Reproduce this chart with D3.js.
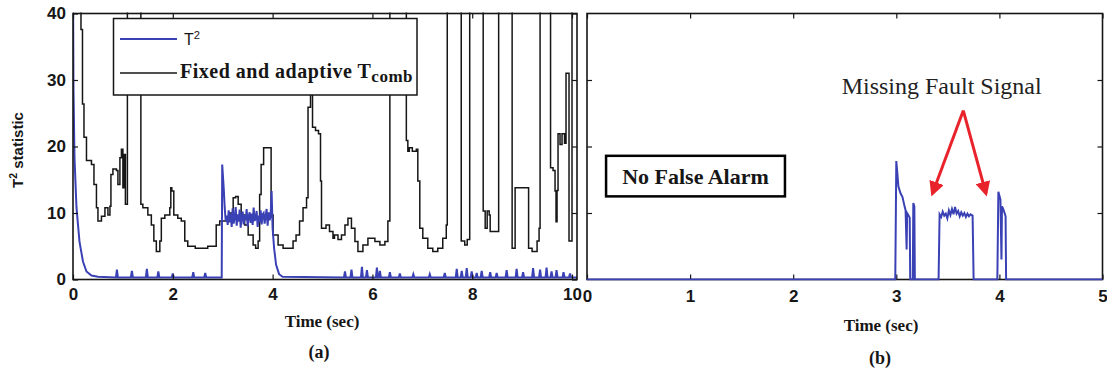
<!DOCTYPE html>
<html>
<head>
<meta charset="utf-8">
<script src="https://cdn.jsdelivr.net/npm/d3@7"></script>
<style>
body { margin: 0; background: #fff; }
svg { display: block; }
</style>
</head>
<body>
<div class="visualization"></div>
<script>
// ---- data ----
var xTicksA = [0, 2, 4, 6, 8, 10];
var yTicksA = [0, 10, 20, 30, 40];
var xTicksB = [0, 1, 2, 3, 4, 5];
var yTicksB = [10, 20, 30];

// (a) blue: T2 statistic  [time, value]
var t2A = [
    [0,45],[0.01,28.4],[0.03,18.3],[0.07,10.8],[0.13,5.7],[0.2,2.7],[0.27,1.2],[0.37,0.6],[0.5,0.4],
    [0.86,0.3],[0.88,1.5],[0.9,0.3],[1.16,0.3],[1.18,1.3],[1.2,0.3],[1.46,0.3],[1.48,1.6],[1.5,0.3],
    [1.69,0.3],[1.71,1.2],[1.73,0.3],[1.98,0.3],[2.0,0.9],[2.02,0.3],[2.39,0.3],[2.41,1.1],[2.43,0.3],
    [2.63,0.3],[2.65,1.0],[2.67,0.3],[2.98,0.3],
    [2.99,17.3],[3.02,13.8],[3.04,10.8],[3.06,8.8],
    [3.08,9.6],[3.10,8.2],[3.12,10.4],[3.14,8.6],[3.16,9.9],[3.18,7.9],[3.20,10.7],[3.22,8.4],
    [3.24,9.3],[3.26,10.9],[3.28,8.1],[3.30,9.8],[3.32,8.7],[3.34,10.5],[3.36,7.8],[3.38,9.4],
    [3.40,10.2],[3.42,8.3],[3.44,9.7],[3.46,8.9],[3.48,10.6],[3.50,8.0],[3.52,9.5],[3.54,10.1],
    [3.56,8.5],[3.58,9.9],[3.60,8.2],[3.62,10.8],[3.64,8.8],[3.66,9.2],[3.68,10.3],[3.70,7.9],
    [3.72,9.6],[3.74,8.6],[3.76,10.4],[3.78,8.3],[3.80,9.8],[3.82,10.0],[3.84,8.4],[3.86,9.5],
    [3.88,10.6],[3.90,8.1],[3.92,10.1],[3.94,8.9],[3.96,9.6],
    [3.98,13.3],[4.0,7.7],[4.03,4.7],[4.07,2.2],[4.13,0.8],[4.2,0.4],
    [5.43,0.3],[5.45,1.2],[5.47,0.3],[5.56,0.3],[5.58,1.5],[5.6,0.3],[5.77,0.3],[5.79,1.9],[5.81,0.3],
    [5.87,0.3],[5.89,1.4],[5.91,0.3],[6.07,0.3],[6.09,1.8],[6.11,0.3],[6.13,0.3],[6.15,1.3],[6.17,0.3],
    [6.33,0.3],[6.35,1.1],[6.37,0.3],[6.53,0.3],[6.55,0.9],[6.57,0.3],[6.8,0.3],[6.82,0.8],[6.84,0.3],
    [7.13,0.3],[7.15,0.8],[7.17,0.3],[7.43,0.3],[7.45,1.0],[7.47,0.3],[7.67,0.3],[7.69,1.6],[7.71,0.3],
    [7.77,0.3],[7.79,1.3],[7.81,0.3],[7.87,0.3],[7.89,1.7],[7.91,0.3],[7.97,0.3],[7.99,1.2],[8.01,0.3],
    [8.07,0.3],[8.09,1.0],[8.11,0.3],[8.17,0.3],[8.19,1.3],[8.21,0.3],[8.34,0.3],[8.36,1.1],[8.38,0.3],
    [8.47,0.3],[8.49,1.0],[8.51,0.3],[8.67,0.3],[8.69,1.4],[8.71,0.3],[8.87,0.3],[8.89,1.6],[8.91,0.3],
    [9.0,0.3],[9.02,1.1],[9.04,0.3],[9.2,0.3],[9.22,1.7],[9.24,0.3],[9.34,0.3],[9.36,1.5],[9.38,0.3],
    [9.47,0.3],[9.49,1.8],[9.51,0.3],[9.57,0.3],[9.59,1.2],[9.61,0.3],[9.67,0.3],[9.69,1.4],[9.71,0.3],
    [9.81,0.3],[9.83,1.1],[9.85,0.3],[9.94,0.3],[9.96,0.9],[9.98,0.3],[10.1,0.3]
];

// (a) black: fixed and adaptive T_comb threshold  [time, value]
var tcombA = [
    [0,45],[0.14,45],[0.16,37.6],[0.19,26.4],[0.22,21.4],[0.27,17.9],[0.37,17.3],[0.42,14.3],
    [0.47,10.8],[0.5,8.8],[0.57,9.5],[0.64,10.8],[0.7,9.7],[0.74,11],[0.76,15.8],[0.8,16.6],
    [0.87,16.4],[0.9,14.3],[0.94,18.3],[0.97,19.6],[1.0,13.8],[1.02,18.8],[1.05,11.3],[1.09,45],
    [1.36,11.3],[1.4,10.8],[1.5,9.7],[1.57,8.2],[1.62,5.8],[1.67,4.2],[1.74,5.8],[1.77,9.2],
    [1.84,9.7],[1.94,10.8],[1.96,13.8],[1.98,13.3],[2.02,9.7],[2.1,9.2],[2.17,8.8],[2.24,5.8],
    [2.3,5.0],[2.45,4.7],[2.7,5.0],[2.87,8.2],[2.94,8.8],[3.07,9.2],[3.14,10],[3.21,12.3],
    [3.26,12.5],[3.31,11.3],[3.37,9.7],[3.44,8.2],[3.51,6.7],[3.61,5.2],[3.66,4.7],[3.71,5.8],
    [3.74,12.8],[3.77,17.3],[3.82,19.8],[3.97,9.7],[4.01,6.7],[4.11,5.2],[4.21,4.7],[4.41,5.8],
    [4.47,6.7],[4.54,8.8],[4.61,10.8],[4.68,12.3],[4.71,25.9],[4.76,29],[4.8,22.9],[4.86,22.4],
    [4.92,21.9],[4.96,14.8],[4.98,7.7],[5.07,8.2],[5.14,7.2],[5.21,6.2],[5.24,6.7],[5.31,6.0],
    [5.38,6.7],[5.45,8.2],[5.51,9.2],[5.58,7.7],[5.65,5.7],[5.71,4.2],[5.81,5.2],[5.91,6.2],
    [6.05,5.7],[6.15,5.2],[6.25,5.7],[6.31,8.8],[6.35,45],[6.68,20.9],[6.71,19.3],[6.74,19.8],
    [6.8,19.3],[6.88,19.6],[6.91,14.8],[6.95,7.7],[7.01,6.2],[7.11,4.7],[7.21,4.2],[7.31,4.7],
    [7.41,6.2],[7.48,8.2],[7.5,45],[7.78,5.8],[7.85,5.2],[7.9,6.0],[7.95,45],[8.22,10.3],
    [8.26,7.7],[8.3,10.3],[8.34,9.7],[8.36,7.2],[8.53,45],[8.8,4.7],[8.86,13.8],[9.13,4.7],
    [9.2,4.2],[9.3,5.8],[9.34,7.7],[9.36,45],[9.57,16.8],[9.62,16.4],[9.66,13.3],[9.68,8.7],
    [9.7,13.4],[9.72,21.9],[9.76,20.3],[9.8,21.9],[9.85,20.5],[9.88,31],[9.94,5.8],[10.0,45],[10.1,45]
];

// (b) blue: T2 with missing fault signal  [time, value]
var t2B = [
    [0,0],[2.99,0],[3.0,17.8],[3.01,16],[3.02,14],[3.04,13],[3.06,12.4],[3.08,11],[3.09,10.4],
    [3.1,4.5],[3.105,10],[3.12,9.6],[3.13,9.3],[3.135,0],[3.16,0],[3.165,11.5],[3.175,11],[3.18,0],
    [3.41,0],[3.42,9.8],[3.435,9.4],[3.45,10.2],[3.465,9.6],[3.48,9.9],[3.495,9.2],[3.51,10.4],
    [3.525,9.7],[3.54,10.6],[3.555,9.8],[3.57,10.9],[3.585,9.9],[3.6,10.3],[3.615,9.5],[3.63,10.1],
    [3.645,9.6],[3.66,10.0],[3.675,9.4],[3.69,9.9],[3.705,9.5],[3.72,9.8],[3.74,9.6],[3.75,0],
    [3.98,0],[3.99,13.2],[4.01,12],[4.02,3],[4.025,11],[4.035,10.7],[4.05,10],[4.06,9.5],[4.065,0],
    [5,0]
];

// annotations in (b), data units
var arrowApex = [3.65, 25.4];
var arrowEnds = [[3.35, 12.9], [3.87, 12.9]];
var missingLabel = {text: 'Missing Fault Signal', t: 3.44, v: 27.9};
var noAlarmBox = {text: 'No False Alarm', t0: 0.185, t1: 1.92, v0: 12.5, v1: 18.6};

// ---- layout ----
var width = 1107, height = 372;
var blue = '#3a41b5';
var ink = '#161616';

var svg = d3.select('.visualization').append('svg')
    .attr('width', width)
    .attr('height', height);

var defs = svg.append('defs');

var xA = d3.scaleLinear().domain([0, 10.1]).range([73, 577]);
var yA = d3.scaleLinear().domain([0, 40]).range([279.5, 13.5]);
var xB = d3.scaleLinear().domain([0, 5]).range([587, 1102.5]);
var yB = d3.scaleLinear().domain([0, 40]).range([279.5, 13.5]);

function drawFrame(name, x, y, xTicks, yTicks, yLabels, xPad) {
    var g = svg.append('g').attr('class', 'frame-' + name);
    var x0 = x.range()[0], x1 = x.range()[1];
    var y0 = y.range()[1], y1 = y.range()[0];

    var bottom = g.append('g')
        .attr('transform', `translate(0,${y1})`)
        .call(d3.axisBottom(x).tickValues(xTicks).tickSizeInner(-5).tickSizeOuter(0).tickPadding(xPad).tickFormat(d3.format('d')));
    var top = g.append('g')
        .attr('transform', `translate(0,${y0})`)
        .call(d3.axisTop(x).tickValues(xTicks).tickSizeInner(-5).tickSizeOuter(0).tickFormat(''));
    var left = g.append('g')
        .attr('transform', `translate(${x0},0)`)
        .call(d3.axisLeft(y).tickValues(yTicks).tickSizeInner(-5).tickSizeOuter(0).tickPadding(7)
            .tickFormat(yLabels ? d3.format('d') : ''));
    var right = g.append('g')
        .attr('transform', `translate(${x1},0)`)
        .call(d3.axisRight(y).tickValues(yTicks).tickSizeInner(-5).tickSizeOuter(0).tickFormat(''));

    [bottom, top, left, right].forEach(a => {
        a.select('.domain').remove();
        a.selectAll('line').attr('stroke', ink).attr('stroke-width', 1.2);
        a.selectAll('text')
            .attr('fill', ink)
            .style('font-family', '"Liberation Sans", Arial, sans-serif')
            .style('font-weight', 'bold')
            .style('font-size', '17px');
    });

    g.append('rect')
        .attr('x', x0).attr('y', y0)
        .attr('width', x1 - x0).attr('height', y1 - y0)
        .attr('fill', 'none')
        .attr('stroke', ink)
        .attr('stroke-width', 1.6);
    return g;
}

function clipFor(name, x, y) {
    defs.append('clipPath').attr('id', 'clip-' + name)
        .append('rect')
        .attr('x', x.range()[0]).attr('y', y.range()[1] - 1)
        .attr('width', x.range()[1] - x.range()[0])
        .attr('height', y.range()[0] - y.range()[1] + 2);
    return svg.append('g').attr('clip-path', `url(#clip-${name})`);
}

// "T" with a raised small "2"
function tSquared(text, size) {
    text.append('tspan').text('T');
    text.append('tspan').attr('dy', -size * 0.4).style('font-size', (size * 0.7) + 'px').text('2');
}

// ---- panel (a) ----
var plotA = clipFor('a', xA, yA);

plotA.append('path')
    .datum(tcombA)
    .attr('fill', 'none')
    .attr('stroke', ink)
    .attr('stroke-width', 1.5)
    .attr('d', d3.line().x(d => xA(d[0])).y(d => yA(d[1])).curve(d3.curveStepAfter));

plotA.append('path')
    .datum(t2A)
    .attr('fill', 'none')
    .attr('stroke', blue)
    .attr('stroke-width', 2)
    .attr('d', d3.line().x(d => xA(d[0])).y(d => yA(d[1])));

drawFrame('a', xA, yA, xTicksA, yTicksA, true, 8);

// legend
var legend = svg.append('g').attr('class', 'legend');
legend.append('rect')
    .attr('x', 113.5).attr('y', 18.5)
    .attr('width', 303.5).attr('height', 76.5)
    .attr('fill', '#fff')
    .attr('stroke', ink)
    .attr('stroke-width', 1.5);
legend.append('line')
    .attr('x1', 120).attr('x2', 177).attr('y1', 39).attr('y2', 39)
    .attr('stroke', blue).attr('stroke-width', 2.2);
legend.append('line')
    .attr('x1', 120).attr('x2', 177).attr('y1', 73).attr('y2', 73)
    .attr('stroke', ink).attr('stroke-width', 1.3);
legend.append('text')
    .attr('x', 184).attr('y', 45)
    .attr('fill', ink)
    .style('font-family', '"Liberation Sans", Arial, sans-serif')
    .style('font-size', '16px')
    .call(tSquared, 16);
var fixedLabel = legend.append('text')
    .attr('x', 180).attr('y', 78)
    .attr('fill', ink)
    .style('font-family', '"Liberation Serif", "Times New Roman", serif')
    .style('font-weight', 'bold')
    .style('letter-spacing', '0.5px')
    .style('font-size', '20px');
fixedLabel.append('tspan').text('Fixed and adaptive T');
fixedLabel.append('tspan').attr('dy', 4).style('font-size', '17px').text('comb');

// axis titles (a)
var yTitle = svg.append('text')
    .attr('transform', 'translate(23,150) rotate(-90)')
    .attr('text-anchor', 'middle')
    .attr('fill', ink)
    .style('font-family', '"Liberation Sans", Arial, sans-serif')
    .style('font-weight', 'bold')
    .style('font-size', '15px');
yTitle.call(tSquared, 15);
yTitle.append('tspan').attr('dy', 15 * 0.4).text(' statistic');

function serifLabel(x, y, text, size) {
    return svg.append('text')
        .attr('x', x).attr('y', y)
        .attr('text-anchor', 'middle')
        .attr('fill', ink)
        .style('font-family', '"Liberation Serif", "Times New Roman", serif')
        .style('font-weight', 'bold')
        .style('font-size', size + 'px')
        .text(text);
}
serifLabel(322, 327, 'Time (sec)', 17);
serifLabel(319, 358, '(a)', 18);

// ---- panel (b) ----
drawFrame('b', xB, yB, xTicksB, yTicksB, false, 10);

var plotB = clipFor('b', xB, yB);

plotB.append('path')
    .datum(t2B)
    .attr('fill', 'none')
    .attr('stroke', blue)
    .attr('stroke-width', 2)
    .attr('d', d3.line().x(d => xB(d[0])).y(d => yB(d[1])));

serifLabel(881, 331, 'Time (sec)', 17);
serifLabel(880, 364, '(b)', 18);

// "No False Alarm" box
svg.append('rect')
    .attr('x', xB(noAlarmBox.t0)).attr('y', yB(noAlarmBox.v1))
    .attr('width', xB(noAlarmBox.t1) - xB(noAlarmBox.t0))
    .attr('height', yB(noAlarmBox.v0) - yB(noAlarmBox.v1))
    .attr('fill', '#fff')
    .attr('stroke', '#000')
    .attr('stroke-width', 2.5);
serifLabel((xB(noAlarmBox.t0) + xB(noAlarmBox.t1)) / 2, 183.5, noAlarmBox.text, 22);

// "Missing Fault Signal" with red arrows
svg.append('text')
    .attr('x', xB(missingLabel.t)).attr('y', yB(missingLabel.v))
    .attr('text-anchor', 'middle')
    .attr('fill', '#222')
    .style('font-family', '"Liberation Serif", "Times New Roman", serif')
    .style('font-size', '24px')
    .text(missingLabel.text);

defs.append('marker')
    .attr('id', 'arrowhead')
    .attr('viewBox', '0 0 10 10')
    .attr('refX', 8).attr('refY', 5)
    .attr('markerWidth', 5).attr('markerHeight', 5)
    .attr('markerUnits', 'strokeWidth')
    .attr('orient', 'auto')
    .append('path')
    .attr('d', 'M0,0 L10,5 L0,10 Z')
    .attr('fill', '#e8232b');

svg.append('g').attr('class', 'arrows')
    .selectAll('line')
    .data(arrowEnds)
    .enter().append('line')
    .attr('x1', xB(arrowApex[0])).attr('y1', yB(arrowApex[1]))
    .attr('x2', d => xB(d[0])).attr('y2', d => yB(d[1]))
    .attr('stroke', '#e8232b')
    .attr('stroke-width', 3)
    .attr('marker-end', 'url(#arrowhead)');
</script>
</body>
</html>
